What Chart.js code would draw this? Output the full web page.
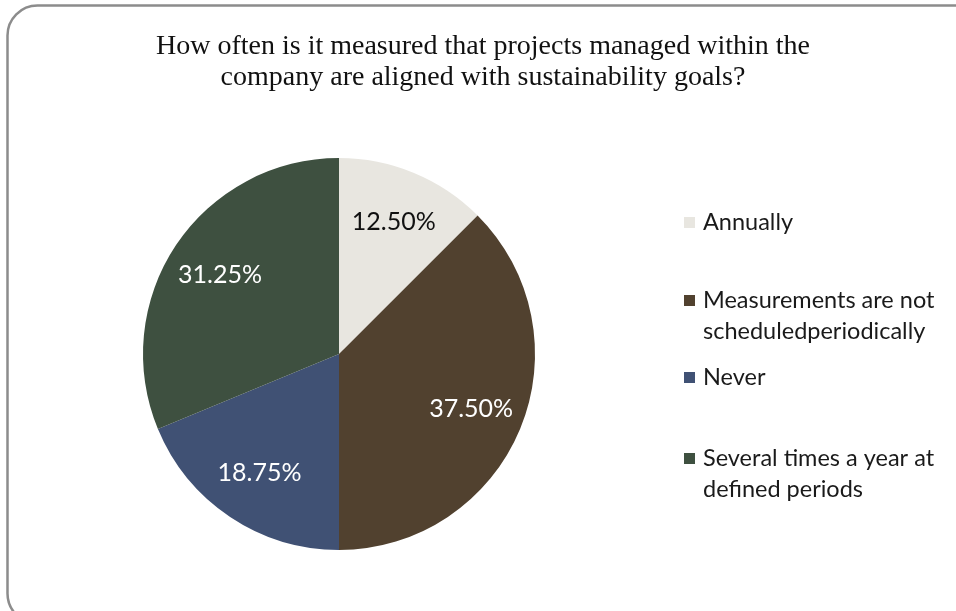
<!DOCTYPE html>
<html>
<head>
<meta charset="utf-8">
<title>Sustainability goal alignment measurement</title>
<script src="https://cdn.jsdelivr.net/npm/chart.js@4.4.1/dist/chart.umd.min.js"></script>
<style>
  html, body { margin: 0; padding: 0; background: #ffffff; }
  #wrap { width: 956px; height: 611px; position: relative; }
</style>
</head>
<body>
<div id="wrap"><canvas id="chart" width="956" height="611"></canvas></div>
<script>
// Survey answers and their shares (%)
const categories = [
  'Annually',
  'Measurements are not scheduledperiodically',
  'Never',
  'Several times a year at defined periods'
];
const legendLines = [
  ['Annually'],
  ['Measurements are not', 'scheduledperiodically'],
  ['Never'],
  ['Several times a year at', 'defined periods']
];
const shares = [12.5, 37.5, 18.75, 31.25];
const sliceColors = ['#e8e6e0', '#51412f', '#405174', '#3e5040'];
const labelColors = ['#111111', '#ffffff', '#ffffff', '#ffffff'];
const titleLines = [
  'How often is it measured that projects managed within the',
  'company are aligned with sustainability goals?'
];

// Rounded frame around the whole figure
const framePlugin = {
  id: 'frame',
  beforeDraw(chart) {
    const ctx = chart.ctx;
    ctx.save();
    ctx.fillStyle = '#ffffff';
    ctx.fillRect(0, 0, chart.width, chart.height);
    ctx.strokeStyle = '#8c8c8c';
    ctx.lineWidth = 2.5;
    ctx.beginPath();
    ctx.roundRect(7.5, 5.5, 985, 618, 30);
    ctx.stroke();
    ctx.restore();
  }
};

// Two-line serif heading
const headingPlugin = {
  id: 'heading',
  afterDraw(chart) {
    const ctx = chart.ctx;
    ctx.save();
    ctx.fillStyle = '#111111';
    ctx.font = '28px "Liberation Serif", "Times New Roman", serif';
    ctx.textAlign = 'center';
    ctx.textBaseline = 'middle';
    titleLines.forEach((line, i) => ctx.fillText(line, 483, 47 + i * 31));
    ctx.restore();
  }
};

// Percentage labels inside each slice
const sliceLabelPlugin = {
  id: 'sliceLabels',
  afterDatasetsDraw(chart) {
    const ctx = chart.ctx;
    const meta = chart.getDatasetMeta(0);
    ctx.save();
    ctx.font = '25px Lato, "Open Sans", sans-serif';
    ctx.textAlign = 'center';
    ctx.textBaseline = 'middle';
    meta.data.forEach((arc, i) => {
      const p = arc.getProps(['x', 'y', 'startAngle', 'endAngle', 'outerRadius']);
      const mid = (p.startAngle + p.endAngle) / 2;
      const r = p.outerRadius * 0.73;
      ctx.fillStyle = labelColors[i];
      ctx.fillText(shares[i].toFixed(2) + '%', p.x + Math.cos(mid) * r, p.y + Math.sin(mid) * r);
    });
    ctx.restore();
  }
};

// Legend on the right with wrapped entries
const sideLegendPlugin = {
  id: 'sideLegend',
  afterDraw(chart) {
    const ctx = chart.ctx;
    const rowY = [222, 300, 377, 458];
    ctx.save();
    ctx.font = '23.5px Lato, "Open Sans", sans-serif';
    ctx.textAlign = 'left';
    ctx.textBaseline = 'middle';
    legendLines.forEach((lines, i) => {
      ctx.fillStyle = sliceColors[i];
      ctx.fillRect(684, rowY[i] - 5, 11, 11);
      ctx.fillStyle = '#1a1a1a';
      lines.forEach((t, j) => ctx.fillText(t, 703, rowY[i] + j * 31));
    });
    ctx.restore();
  }
};

new Chart(document.getElementById('chart'), {
  type: 'pie',
  data: {
    labels: categories,
    datasets: [{
      data: shares,
      backgroundColor: sliceColors,
      borderWidth: 0
    }]
  },
  options: {
    responsive: false,
    animation: false,
    layout: { padding: { left: 143, right: 421, top: 158, bottom: 61 } },
    plugins: {
      legend: { display: false },
      title: { display: false },
      tooltip: { enabled: false }
    }
  },
  plugins: [framePlugin, headingPlugin, sliceLabelPlugin, sideLegendPlugin]
});
</script>
</body>
</html>
